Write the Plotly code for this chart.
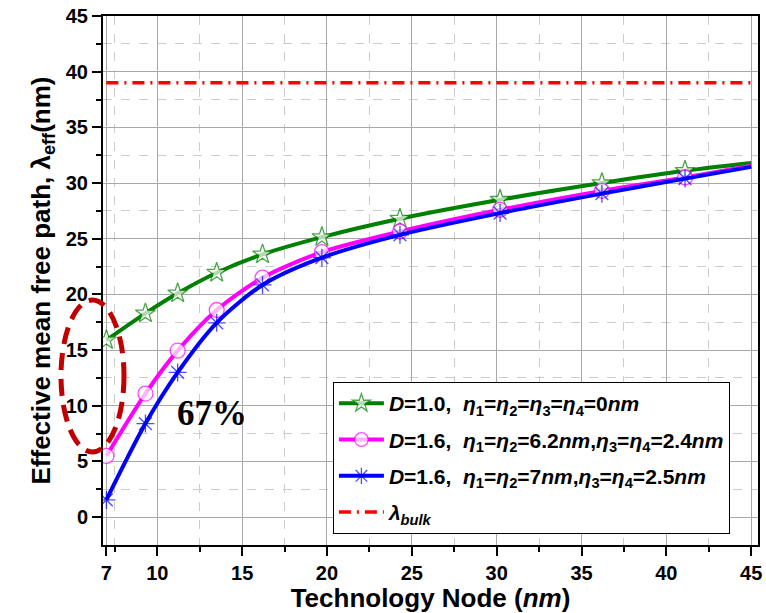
import plotly.graph_objects as go

# Technology node (nm) at which the curves are evaluated; the last node only closes the lines
node_nm = [7, 9.3, 11.2, 13.5, 16.2, 19.7, 24.3, 30.2, 36.2, 41.1, 45]

# Effective mean free path (nm) for the three roughness cases
mfp_smooth = [15.9, 18.3, 20.1, 21.95, 23.6, 25.15, 26.8, 28.5, 30.0, 31.1, 31.8]
mfp_rough_a = [5.5, 11.1, 14.95, 18.6, 21.5, 23.8, 25.65, 27.6, 29.3, 30.5, 31.55]
mfp_rough_b = [1.55, 8.4, 13.0, 17.45, 20.85, 23.3, 25.35, 27.3, 29.05, 30.4, 31.45]

# Bulk mean free path of copper (nm)
bulk_x = [7, 45]
bulk_mfp = [39, 39]

x_ticks = [7, 10, 15, 20, 25, 30, 35, 40, 45]
x_minor = [7.5, 12.5, 17.5, 22.5, 27.5, 32.5, 37.5, 42.5]
y_ticks = [0, 5, 10, 15, 20, 25, 30, 35, 40, 45]
y_minor = [2.5, 7.5, 12.5, 17.5, 22.5, 27.5, 32.5, 37.5, 42.5]

labels = [
    "<i>D</i>=1.0,  <i>η</i><sub>1</sub>=<i>η</i><sub>2</sub>=<i>η</i><sub>3</sub>=<i>η</i><sub>4</sub>=0<i>nm</i>",
    "<i>D</i>=1.6,  <i>η</i><sub>1</sub>=<i>η</i><sub>2</sub>=6.2<i>nm</i>,<i>η</i><sub>3</sub>=<i>η</i><sub>4</sub>=2.4<i>nm</i>",
    "<i>D</i>=1.6,  <i>η</i><sub>1</sub>=<i>η</i><sub>2</sub>=7<i>nm</i>,<i>η</i><sub>3</sub>=<i>η</i><sub>4</sub>=2.5<i>nm</i>",
    "<i>λ<sub>bulk</sub></i>",
]

FONT = "Liberation Sans, Arial, sans-serif"
n_marks = len(node_nm) - 1


def sizes(s):
    # markers on every node except the closing point of the line
    return [s] * n_marks + [0]


fig = go.Figure()

fig.add_trace(go.Scatter(
    x=node_nm, y=mfp_smooth, name=labels[0], legendgroup="a",
    mode="lines+markers", line=dict(color="#008000", width=4, shape="spline", smoothing=0.8),
    marker=dict(symbol="star", size=sizes(15), color="white",
                line=dict(color="#008000", width=1.3)),
))
fig.add_trace(go.Scatter(
    x=node_nm, y=mfp_rough_a, name=labels[1], legendgroup="b",
    mode="lines+markers", line=dict(color="#FF00FF", width=4, shape="spline", smoothing=0.8),
    marker=dict(symbol="circle", size=sizes(15), color="white",
                line=dict(color="#FF00FF", width=1.3)),
))
fig.add_trace(go.Scatter(
    x=node_nm, y=mfp_rough_b, name=labels[2], legendgroup="c",
    mode="lines+markers", line=dict(color="#0000FF", width=4, shape="spline", smoothing=0.8),
    marker=dict(symbol="asterisk-open", size=sizes(15), color="#0000FF",
                line=dict(color="#0000FF", width=1.3)),
))
fig.add_trace(go.Scatter(
    x=bulk_x, y=bulk_mfp, name=labels[3], legendgroup="d",
    mode="lines", line=dict(color="#FF0000", width=3.5, dash="12px,6px,2px,6px"),
))

# plot-area pixel frame used to place the highlight ellipse in paper units
PX0, PX1, PY0, PY1 = 103, 758, 16, 545


def px_to_paper_x(px):
    return (px - PX0) / (PX1 - PX0)


def px_to_paper_y(py):
    return (PY1 - py) / (PY1 - PY0)


fig.add_shape(
    type="circle", xref="paper", yref="paper",
    x0=px_to_paper_x(61), x1=px_to_paper_x(124),
    y0=px_to_paper_y(452), y1=px_to_paper_y(300),
    line=dict(color="#C00000", width=5, dash="17px,9px"),
)

fig.add_annotation(
    x=13.2, y=9.3, xref="x", yref="y", text="<b>67%</b>", showarrow=False,
    font=dict(family="Liberation Serif, Times New Roman, serif", size=35, color="black"),
)

axis_common = dict(
    showline=True, linewidth=2, linecolor="black", mirror=True,
    ticks="outside", ticklen=9, tickwidth=2, tickcolor="black",
    showgrid=True, gridcolor="#A8A8A8", gridwidth=1, zeroline=False,
    automargin=False,
    tickfont=dict(family=FONT, size=20, color="black", weight="bold"),
)

fig.update_xaxes(
    range=[6.8, 45.4], tickmode="array", tickvals=x_ticks,
    minor=dict(tickmode="array", tickvals=x_minor, ticks="outside", ticklen=5,
               tickwidth=2, tickcolor="black", showgrid=True, gridcolor="#CCCCCC",
               griddash="dash", gridwidth=1),
    title=dict(text="Technology Node (<i>nm</i>)",
               font=dict(family=FONT, size=26, color="black", weight="bold"), standoff=6),
    **axis_common,
)
fig.update_yaxes(
    range=[-2.5, 45], tickmode="array", tickvals=y_ticks,
    minor=dict(tickmode="array", tickvals=y_minor, ticks="outside", ticklen=5,
               tickwidth=2, tickcolor="black", showgrid=True, gridcolor="#CCCCCC",
               griddash="dash", gridwidth=1),
    title=dict(text="Effective mean free path, λ<sub>eff</sub>(nm)",
               font=dict(family=FONT, size=26, color="black", weight="bold"), standoff=8),
    **axis_common,
)

fig.update_layout(
    width=766, height=613,
    margin=dict(l=103, r=8, t=16, b=68),
    paper_bgcolor="white", plot_bgcolor="white",
    font=dict(family=FONT, color="black"),
    showlegend=True,
    legend=dict(
        x=0.351, y=0.308, xanchor="left", yanchor="top",
        bgcolor="white", bordercolor="black", borderwidth=1,
        font=dict(family=FONT, size=21, color="black", weight="bold"),
        itemwidth=45, traceorder="grouped", tracegroupgap=6,
    ),
)

fig.write_html("out.html")
